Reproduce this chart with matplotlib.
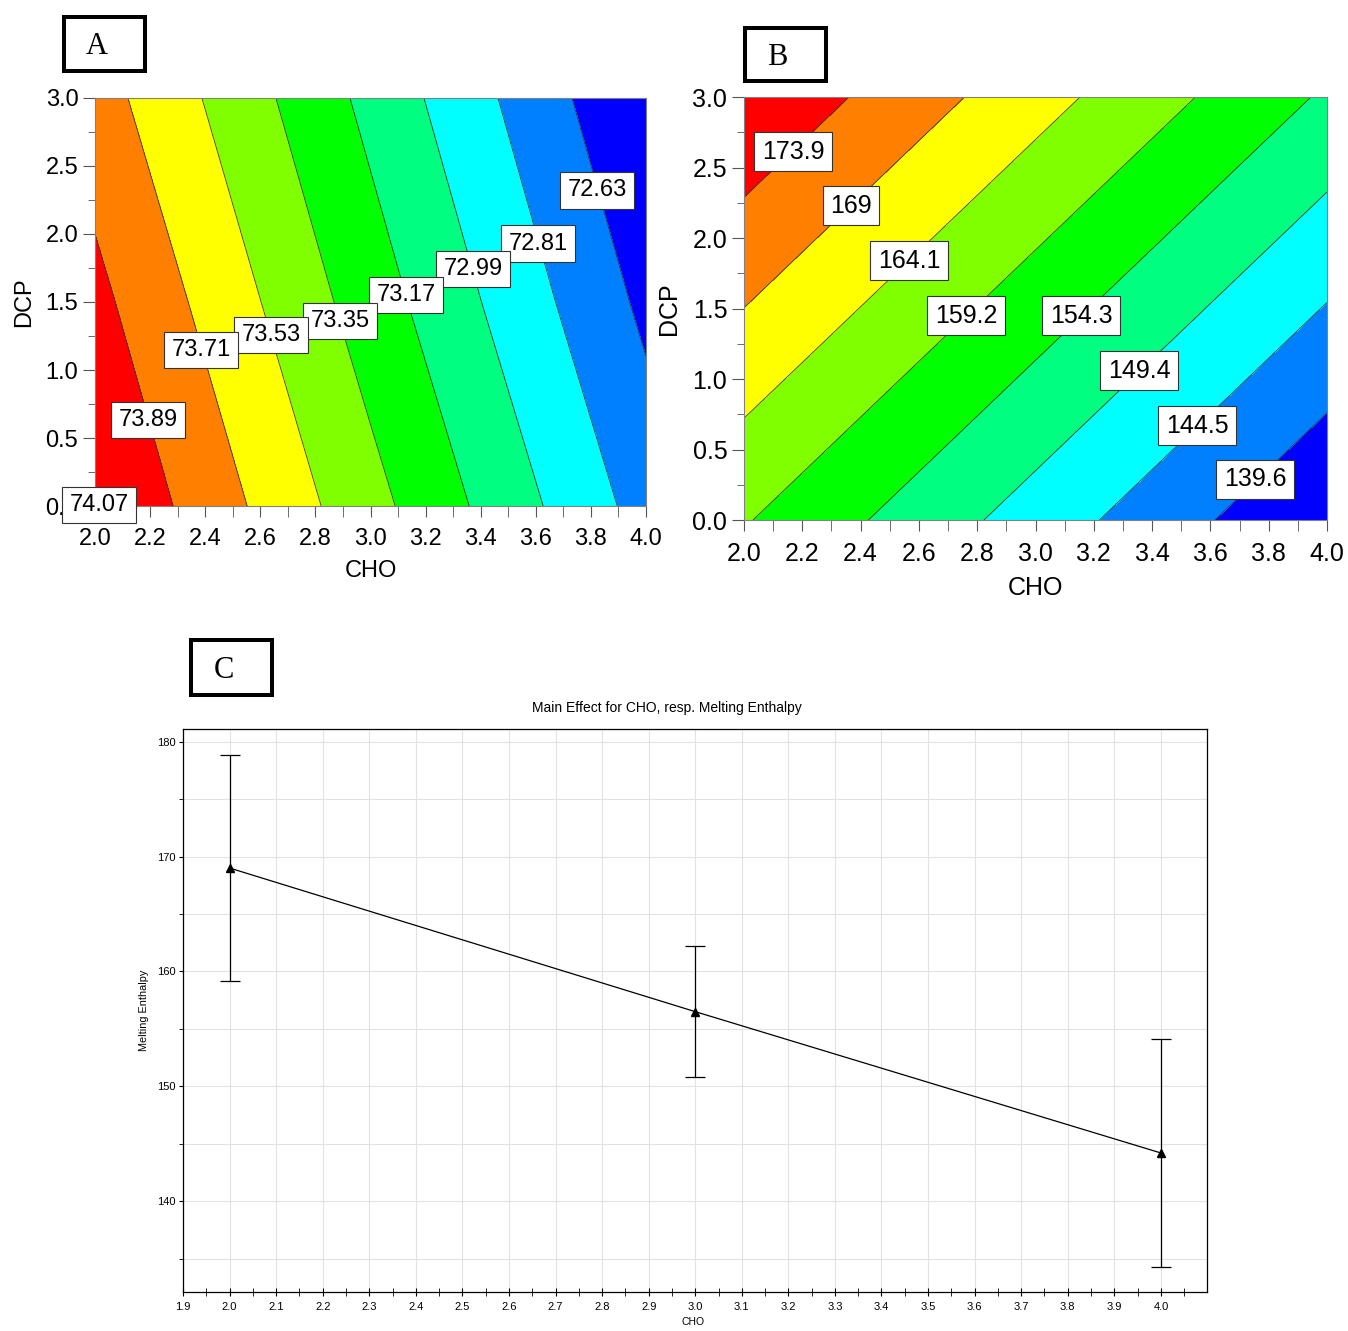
import matplotlib.pyplot as plt
import numpy as np
from matplotlib.patches import Rectangle
from matplotlib.ticker import MultipleLocator

plt.rcParams['font.family'] = ['Liberation Sans', 'DejaVu Sans']

# response surfaces at CHO = 2, 3, 4 and DCP = 0, 1.5, 3
cho_grid = [2.0, 3.0, 4.0]
dcp_grid = [0.0, 1.5, 3.0]
z_a = [[74.08, 73.41, 72.74],
       [73.94, 73.26, 72.59],
       [73.79, 73.12, 72.45]]
z_b = [[159.58, 147.21, 134.84],
       [168.97, 156.60, 144.23],
       [178.36, 165.99, 153.62]]

levels_a = [72.63, 72.81, 72.99, 73.17, 73.35, 73.53, 73.71, 73.89, 74.07]
levels_b = [139.6, 144.5, 149.4, 154.3, 159.2, 164.1, 169.0, 173.9]

# where the boxed contour labels sit (CHO, DCP)
label_pts_a = [(3.822, 2.32), (3.608, 1.93), (3.372, 1.74), (3.129, 1.55), (2.889, 1.36),
               (2.639, 1.26), (2.385, 1.15), (2.192, 0.63), (2.015, 0.01)]
label_pts_b = [(3.753, 0.29), (3.554, 0.67), (3.355, 1.06), (3.156, 1.45), (2.762, 1.45),
               (2.566, 1.84), (2.367, 2.23), (2.168, 2.61)]

band_colors = ['#0000ff', '#0080ff', '#00ffff', '#00ff80', '#00ff00',
               '#80ff00', '#ffff00', '#ff8000', '#ff0000']

# main effect plot
cho_levels = [2.0, 3.0, 4.0]
enthalpy_mean = [169.0, 156.5, 144.2]
enthalpy_err = [9.8, 5.7, 9.9]

W, H = 1348, 1331
fig = plt.figure(figsize=(W / 100, H / 100), dpi=100)


def px_axes(l, t, r, b):
    return fig.add_axes([l / W, 1 - b / H, (r - l) / W, (b - t) / H])


def panel_tag(l, t, r, b, letter):
    fig.add_artist(Rectangle((l / W, 1 - b / H), (r - l) / W, (b - t) / H,
                             transform=fig.transFigure, fill=False, lw=2.9, ec='black'))
    # the letters sit a little left of and below the box centre
    fig.text(((l + r) / 2 - 8) / W, 1 - ((t + b) / 2 + 3) / H, letter, ha='center', va='center',
             family='Liberation Serif', fontsize=22)


def contour_panel(ax, z, levels, pts, fs):
    z = np.array(z)
    edges = [z.min() - 5] + [lv for lv in levels if lv < z.max()] + [z.max() + 5]
    edges = edges[:len(band_colors) + 1]
    edges[-1] = z.max() + 5
    ax.contourf(cho_grid, dcp_grid, z, levels=edges, colors=band_colors)
    ax.contour(cho_grid, dcp_grid, z, levels=levels, colors='#3a3a3a', linewidths=0.6)
    for lv, (x, y) in zip(levels, pts):
        ax.text(x, y, f'{lv:g}', ha='center', va='center', fontsize=fs, zorder=5,
                clip_on=False,
                bbox=dict(boxstyle='square,pad=0.3', fc='white', ec='#333333', lw=0.8))
    ax.set_xlim(2, 4)
    ax.set_ylim(0, 3)
    ax.xaxis.set_major_locator(MultipleLocator(0.2))
    ax.xaxis.set_minor_locator(MultipleLocator(0.1))
    ax.yaxis.set_major_locator(MultipleLocator(0.5))
    ax.yaxis.set_minor_locator(MultipleLocator(0.25))
    ax.xaxis.set_major_formatter(lambda v, p: f'{v:.1f}')
    ax.yaxis.set_major_formatter(lambda v, p: f'{v:.1f}')
    ax.tick_params(axis='both', which='both', direction='out', color='#555555', labelsize=fs)
    ax.tick_params(axis='x', which='both', length=8, pad=8)
    ax.tick_params(axis='y', which='major', length=8.5, pad=3.5)
    ax.tick_params(axis='y', which='minor', length=5)
    for s in ax.spines.values():
        s.set_color('#808080')
        s.set_linewidth(0.8)
    ax.set_xlabel('CHO', fontsize=fs)
    ax.set_ylabel('DCP', fontsize=fs)
    ax.xaxis.set_label_coords(0.5, -0.133)
    ax.yaxis.set_label_coords(-0.108, 0.5)


ax_a = px_axes(95, 98, 646, 506)
contour_panel(ax_a, z_a, levels_a, label_pts_a, 17)

ax_b = px_axes(744, 97, 1327, 520)
contour_panel(ax_b, z_b, levels_b, label_pts_b, 18)

panel_tag(64, 17, 145, 71, 'A')
panel_tag(745, 28, 826, 81, 'B')
panel_tag(191, 640, 272, 695, 'C')

# C: main effect
ax_c = px_axes(183, 729, 1207, 1292)
ax_c.errorbar(cho_levels, enthalpy_mean, yerr=enthalpy_err, color='black', lw=0.9,
              marker='^', ms=5.5, capsize=7, elinewidth=0.9, capthick=0.9, zorder=3)
ax_c.set_xlim(1.9, 4.099)
ax_c.set_ylim(132.1, 181.1)
ax_c.xaxis.set_major_locator(MultipleLocator(0.1))
ax_c.xaxis.set_minor_locator(MultipleLocator(0.05))
ax_c.yaxis.set_major_locator(MultipleLocator(10))
ax_c.yaxis.set_minor_locator(MultipleLocator(5))
ax_c.xaxis.set_major_formatter(lambda v, p: f'{v:.1f}')
ax_c.grid(which='major', axis='x', color='#e2e2e2', lw=0.8)
ax_c.grid(which='both', axis='y', color='#e2e2e2', lw=0.8)
ax_c.set_axisbelow(True)
ax_c.tick_params(axis='x', which='both', direction='inout', length=6, labelsize=8, pad=4)
ax_c.tick_params(axis='y', which='both', direction='out', length=3, labelsize=8, pad=2)
for s in ax_c.spines.values():
    s.set_linewidth(0.9)
ax_c.set_title('Main Effect for CHO, resp. Melting Enthalpy', fontsize=10, pad=12, x=0.473)
ax_c.set_xlabel('CHO', fontsize=7.5)
ax_c.set_ylabel('Melting Enthalpy', fontsize=7.8)
ax_c.xaxis.set_label_coords(0.498, -0.045)
ax_c.yaxis.set_label_coords(-0.033, 0.5)

fig.savefig('out.png', dpi=100)
